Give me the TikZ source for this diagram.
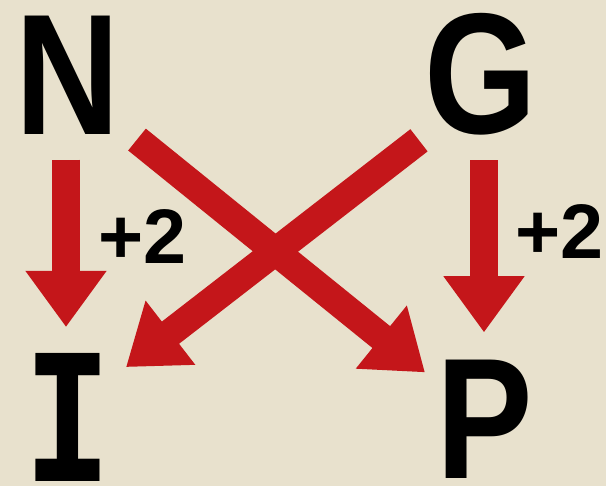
\documentclass[tikz,border=0pt]{standalone}
\usepackage{fontspec}
\setmainfont{Liberation Sans}
\newfontfamily\slabfont{DejaVu Sans Mono}
\usetikzlibrary{arrows.meta}
\definecolor{paper}{RGB}{232,225,205}
\definecolor{arrowred}{RGB}{196,22,26}

\begin{document}
\begin{tikzpicture}[x=0.02cm, y=-0.02cm,
  letter/.style={inner sep=0pt, xscale=0.84, font=\fontsize{98}{98}\selectfont\bfseries},
  plus/.style={inner sep=0pt, anchor=west, font=\fontsize{44}{44}\selectfont\bfseries},
  redarrow/.style={line width=16pt, arrowred, -{Triangle[length=32pt,width=44pt]}}]

% Background
\fill[paper] (0,0) rectangle (606,486);

% Letters
\node[letter] (N) at (67.5,75) {N};
\node[letter] (G) at (481,74) {G};
\node[letter, font=\fontsize{100}{100}\selectfont\slabfont\bfseries] (I) at (67.5,417.5) {I};
\node[letter] (P) at (485,419) {P};

% Straight arrows
\draw[redarrow] ([shift={(-1.5,25)}]N.south) -- ([shift={(-1.5,-26)}]N.south |- I.north);
\draw[redarrow] ([shift={(3,25)}]G.south) -- ([shift={(3,-27)}]G.south |- P.north);

% Crossing arrows
\draw[redarrow] ([shift={(-62,5)}]G.south) -- ([shift={(58.5,14)}]I.north);
\draw[redarrow] ([shift={(69.5,5)}]N.south) -- ([shift={(-60,13)}]P.north);

% Labels
\node[plus] (lblL) at (98,237) {+2};
\node[plus] (lblR) at (515,232) {+2};

\end{tikzpicture}
\end{document}
